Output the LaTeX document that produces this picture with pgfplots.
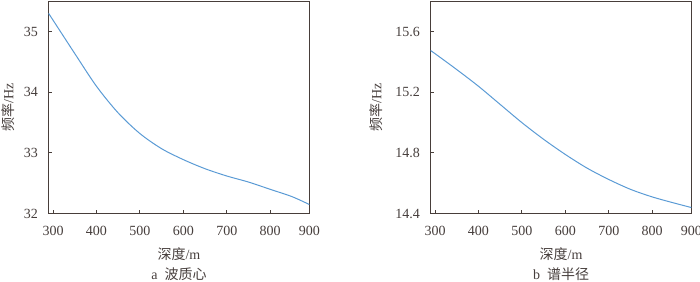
\documentclass[border=0pt]{standalone}
\usepackage{pgfplots}
\pgfplotsset{compat=1.18}
\usepackage{fontspec}
\setmainfont{Liberation Serif}
\newfontfamily\cjk{Noto Sans CJK SC}
\definecolor{axcol}{RGB}{72,62,58}
\definecolor{txtcol}{RGB}{70,62,60}
\definecolor{curve}{RGB}{91,155,213}
\begin{document}
\begin{tikzpicture}
\useasboundingbox (-36.5pt,-50.6pt) rectangle (488.5pt,160.2pt);
\pgfplotsset{
  every axis/.append style={
    scale only axis, clip=false,
    width=195.5pt, height=159.2pt,
    axis line style={draw=axcol, line width=0.9pt},
    tick style={draw=axcol, line width=0.7pt},
    major tick length=2.5pt,
    tick align=inside,
    xtick pos=bottom, ytick pos=left,
    xmin=290, xmax=890,
    xtick={300,400,500,600,700,800,890},
    xticklabels={300,400,500,600,700,800,900},
    ticklabel style={font=\fontsize{10.5}{12}\selectfont, text=txtcol},
    /pgf/number format/assume math mode=true,
    every x tick label/.append style={yshift=-6pt},
    every y tick label/.append style={xshift=-4.5pt},
    label style={font=\fontsize{10.5}{12}\selectfont, text=txtcol},
    xlabel={{\cjk 深度}/m},
    x label style={at={(axis description cs:0.5,-0.193)}, anchor=center},
  }
}
\begin{axis}[at={(0pt,0pt)}, anchor=south west,
  ymin=32, ymax=35.5, ytick={32,33,34,35},
  yticklabel style={/pgf/number format/fixed, /pgf/number format/precision=0}]
\addplot[curve, line width=0.75pt, smooth] coordinates {
(290,35.30) (300,35.19) (350,34.64) (400,34.10) (450,33.66) (500,33.32)
(550,33.07) (600,32.89) (650,32.74) (700,32.62) (750,32.52) (800,32.40)
(850,32.28) (890,32.15)};
\node[font=\fontsize{10.5}{12}\selectfont, text=txtcol, anchor=center, rotate=90] at (axis description cs:-0.156,0.5) {{\cjk 频率}/Hz};
\node[font=\fontsize{10.5}{12}\selectfont, text=txtcol, anchor=center] at (axis description cs:0.5,-0.285) {a\ \ {\cjk 波质心}};
\end{axis}
\begin{axis}[at={(286.5pt,0pt)}, anchor=south west,
  ymin=14.4, ymax=15.8, ytick={14.4,14.8,15.2,15.6},
  yticklabel style={/pgf/number format/fixed, /pgf/number format/fixed zerofill, /pgf/number format/precision=1}]
\addplot[curve, line width=0.75pt, smooth] coordinates {
(290,15.475) (300,15.455) (350,15.35) (400,15.24) (450,15.12) (500,15.00)
(550,14.89) (600,14.79) (650,14.70) (700,14.625) (750,14.56) (800,14.51)
(850,14.47) (890,14.44)};
\node[font=\fontsize{10.5}{12}\selectfont, text=txtcol, anchor=center, rotate=90] at (axis description cs:-0.21,0.5) {{\cjk 频率}/Hz};
\node[font=\fontsize{10.5}{12}\selectfont, text=txtcol, anchor=center] at (axis description cs:0.5,-0.285) {b\ \ {\cjk 谱半径}};
\end{axis}
\end{tikzpicture}
\end{document}
